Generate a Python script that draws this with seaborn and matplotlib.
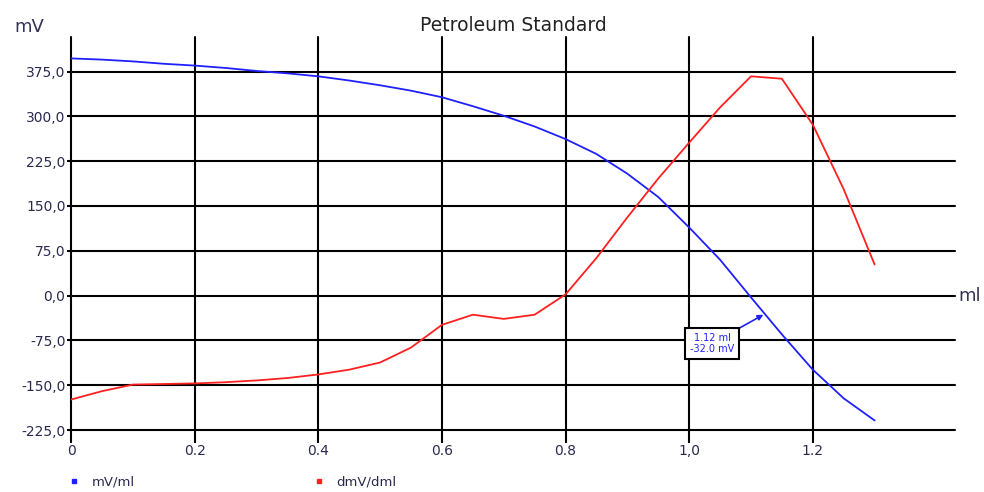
import matplotlib
matplotlib.use('Agg')
import matplotlib.pyplot as plt
import seaborn as sns
import pandas as pd
from matplotlib.lines import Line2D
from matplotlib.ticker import FixedLocator, FixedFormatter

# titration volumes (ml)
ml = [0.0, 0.05, 0.1, 0.15, 0.2, 0.25, 0.3, 0.35, 0.4, 0.45, 0.5, 0.55, 0.6, 0.65,
      0.7, 0.75, 0.8, 0.85, 0.9, 0.95, 1.0, 1.05, 1.1, 1.15, 1.2, 1.25, 1.3]
# potential (mV)
mv = [397, 395, 392, 388, 385, 381, 376, 372, 367, 360, 352, 343, 332, 317,
      301, 283, 262, 237, 204, 165, 114, 60, -3, -65, -124, -172, -209]
# first derivative
dmv = [-174, -160, -149, -148, -147, -145, -142, -138, -132, -124, -112, -87, -49, -32,
       -39, -32, 2, 63, 131, 196, 256, 315, 367, 363, 286, 178, 52]

yticks = [-225, -150, -75, 0, 75, 150, 225, 300, 375]
ytick_labels = ['-225,0', '-150,0', '-75,0', '0,0', '75,0', '150,0', '225,0', '300,0', '375,0']
xticks = [0, 0.2, 0.4, 0.6, 0.8, 1.0, 1.2]
xtick_labels = ['0', '0.2', '0.4', '0.6', '0.8', '1,0', '1.2']

df = pd.DataFrame({'ml': ml, 'mV/ml': mv, 'dmV/dml': dmv})

sns.set_style('white')
plt.rcParams['font.family'] = ['DejaVu Sans']

fig = plt.figure(figsize=(9.84, 4.92), dpi=100)
ax = fig.add_axes([0.0722, 0.126, 0.8983, 0.799])

sns.lineplot(data=df, x='ml', y='mV/ml', color='#2020ff', lw=1.3, ax=ax)
sns.lineplot(data=df, x='ml', y='dmV/dml', color='#ff2020', lw=1.3, ax=ax)

ax.set_xlim(0, 1.43)
ax.set_ylim(-225, 433)
ax.yaxis.set_major_locator(FixedLocator(yticks))
ax.yaxis.set_major_formatter(FixedFormatter(ytick_labels))
ax.xaxis.set_major_locator(FixedLocator(xticks))
ax.xaxis.set_major_formatter(FixedFormatter(xtick_labels))

for v in yticks:
    ax.axhline(v, color='black', lw=1.5, zorder=1, clip_on=False)
for v in xticks:
    ax.axvline(v, color='black', lw=1.5, zorder=1, clip_on=False)

for s in ax.spines.values():
    s.set_visible(False)
ax.tick_params(axis='x', length=9, width=1.5, color='black', labelsize=10,
               labelcolor='#2a2a50', pad=1, bottom=True)
ax.tick_params(axis='y', length=3, width=1.5, color='black', labelsize=10,
               labelcolor='#2a2a50', pad=1, left=True)
ax.set_xlabel('')
ax.set_ylabel('')

ax.set_title('Petroleum Standard', fontsize=13.5, color='#222222', pad=4)
fig.text(0.015, 0.935, 'mV', fontsize=13, color='#333355')
ax.text(1.435, 0, 'ml', fontsize=13, color='#333355', va='center', ha='left')

ax.annotate('1.12 ml\n-32.0 mV', xy=(1.12, -32), xytext=(1.037, -80),
            fontsize=7, color='#2020ff', ha='center', va='center',
            bbox=dict(boxstyle='square,pad=0.5', fc='white', ec='black', lw=1.5),
            arrowprops=dict(arrowstyle='-|>', color='#2020ff', lw=1.2,
                            mutation_scale=8, shrinkA=0, shrinkB=0),
            zorder=5)

handles = [Line2D([], [], marker='s', ls='none', color='#2020ff', markersize=3),
           Line2D([], [], marker='s', ls='none', color='#ff2020', markersize=3)]
fig.legend(handles, ['mV/ml', 'dmV/dml'], loc='lower left', bbox_to_anchor=(0.05, -0.018),
           ncol=2, frameon=False, fontsize=9.5, columnspacing=13.0, handletextpad=0.3,
           labelcolor='#2a2a50')

fig.savefig('out.png', dpi=100)
